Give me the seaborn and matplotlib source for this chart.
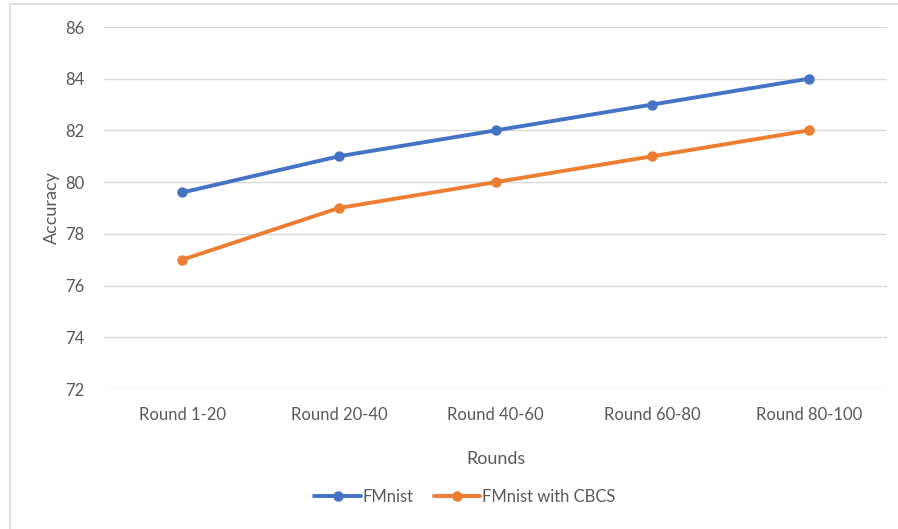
import matplotlib
matplotlib.use("Agg")
import matplotlib.pyplot as plt
from matplotlib.patches import Rectangle
import pandas as pd
import seaborn as sns

categories = ["Round 1-20", "Round 20-40", "Round 40-60", "Round 60-80", "Round 80-100"]
fmnist = [79.6, 81, 82, 83, 84]
fmnist_cbcs = [77, 79, 80, 81, 82]
series_names = ["FMnist", "FMnist with CBCS"]
y_ticks = [72, 74, 76, 78, 80, 82, 84, 86]

df = pd.DataFrame({
    "Rounds": categories * 2,
    "pos": list(range(len(categories))) * 2,
    "Accuracy": fmnist + fmnist_cbcs,
    "Series": [series_names[0]] * len(categories) + [series_names[1]] * len(categories),
})

sns.set_theme(style="white")
plt.rcParams["font.family"] = ["Lato", "DejaVu Sans"]
text_color = "#595959"

fig = plt.figure(figsize=(8.98, 5.29), dpi=100)
W, H = 898, 529
ax = fig.add_axes([104 / W, 1 - 389 / H, (887 - 104) / W, (389 - 27) / H])

sns.lineplot(
    data=df, x="pos", y="Accuracy", hue="Series",
    palette=["#4472C4", "#ED7D31"], marker="o", markersize=7.5,
    markeredgewidth=0, linewidth=2.8, ax=ax, legend=True,
)

ax.set_xlim(-0.5, len(categories) - 0.5)
ax.set_ylim(72, 86)
ax.set_yticks(y_ticks)
ax.set_xticks(range(len(categories)))
ax.set_xticklabels(categories)
ax.tick_params(axis="both", length=0, labelsize=12, labelcolor=text_color)
ax.tick_params(axis="x", pad=13)
ax.tick_params(axis="y", pad=14)
ax.grid(axis="y", color="#D9D9D9", linewidth=1)
ax.set_axisbelow(True)
for s in ax.spines.values():
    s.set_visible(False)

ax.set_xlabel("Rounds", fontsize=13, color=text_color, labelpad=20)
ax.set_ylabel("Accuracy", fontsize=13, color=text_color, labelpad=4)

handles, labels = ax.get_legend_handles_labels()
ax.legend(
    handles, labels, loc="center", bbox_to_anchor=(465 / W, 1 - 497 / H),
    bbox_transform=fig.transFigure, ncol=2, frameon=False,
    fontsize=12, labelcolor=text_color, handlelength=2.8,
    handletextpad=0.1, columnspacing=1.2,
)

# Light frame around the chart (left and top edges visible)
fig.patches.append(Rectangle((10 / W, -0.1), 1.2, 1 - 4 / H + 0.1,
                             transform=fig.transFigure, fill=False,
                             edgecolor="#D9D9D9", linewidth=1.2))

fig.savefig("out.png", dpi=100)
